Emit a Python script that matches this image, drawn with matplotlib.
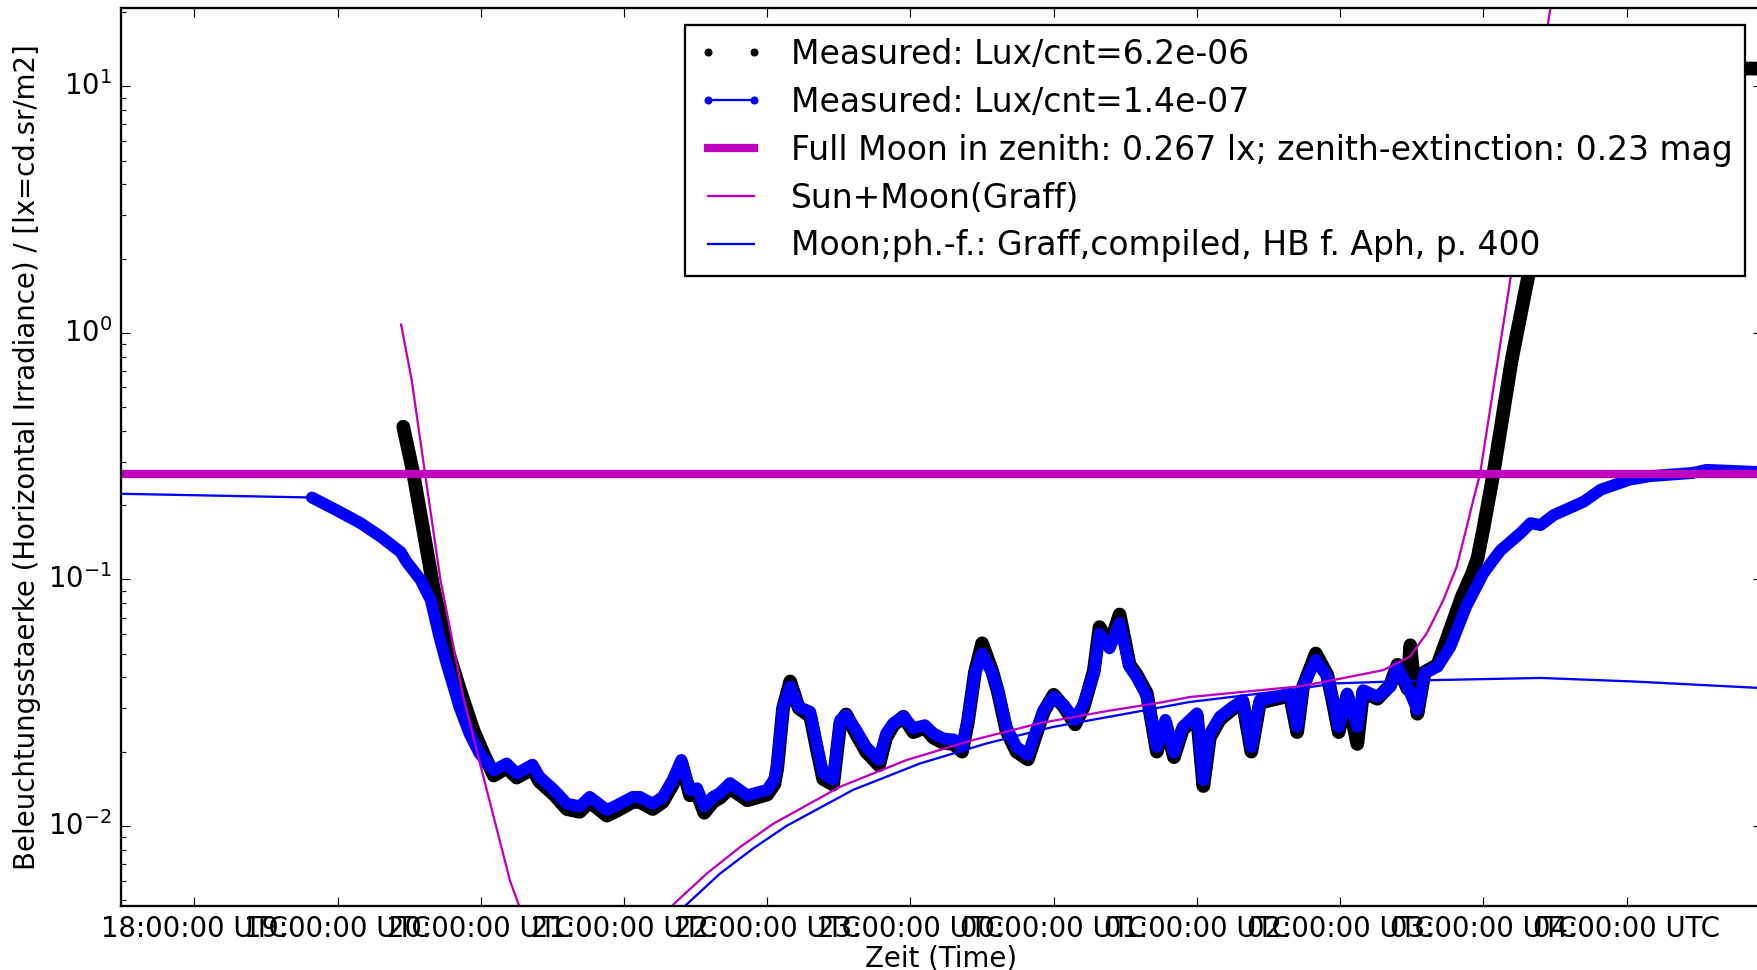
import matplotlib
matplotlib.use('Agg')
import matplotlib.pyplot as plt

plt.style.use('classic')
plt.rcParams['mathtext.fontset'] = 'dejavusans'

# time axis in hours UTC (24 = midnight, 25 = 01:00 ...)
hour_ticks = [18, 19, 20, 21, 22, 23, 24, 25, 26, 27, 28]
hour_labels = ['18:00:00 UTC', '19:00:00 UTC', '20:00:00 UTC', '21:00:00 UTC',
               '22:00:00 UTC', '23:00:00 UTC', '00:00:00 UTC', '01:00:00 UTC',
               '02:00:00 UTC', '03:00:00 UTC', '04:00:00 UTC']

# channel 1, Lux/cnt = 6.2e-06
black_t = [19.458, 19.528, 19.598, 19.668, 19.761, 19.854, 19.947, 20.017,
           20.09, 20.18, 20.25, 20.36, 20.41, 20.51, 20.60, 20.69, 20.76, 20.88,
           20.96, 21.06, 21.11, 21.20, 21.27, 21.34, 21.40, 21.46, 21.51, 21.56,
           21.62, 21.67, 21.74, 21.86, 22.00, 22.05, 22.07, 22.11, 22.16, 22.22,
           22.30, 22.35, 22.39, 22.46, 22.51, 22.55, 22.62, 22.69, 22.78, 22.83,
           22.88, 22.95, 23.02, 23.10, 23.16, 23.23, 23.30, 23.36, 23.40, 23.45,
           23.50, 23.57, 23.61, 23.67, 23.74, 23.82, 23.87, 23.93, 24.00, 24.07,
           24.15, 24.21, 24.28, 24.32, 24.39, 24.46, 24.53, 24.58, 24.65, 24.72,
           24.78, 24.84, 24.90, 25.00, 25.045, 25.09, 25.16, 25.25, 25.32, 25.38,
           25.44, 25.56, 25.65, 25.70, 25.74, 25.83, 25.91, 25.95, 25.99, 26.05,
           26.12, 26.16, 26.26, 26.35, 26.40, 26.47, 26.49, 26.54, 26.59, 26.68,
           26.744, 26.85, 26.92, 26.96, 27.00, 27.07, 27.198, 27.315, 27.50,
           27.70, 27.85, 28.95]
black_v = [0.416, 0.269, 0.1585, 0.0933, 0.0533, 0.0356, 0.0245, 0.0197,
           0.0160, 0.0172, 0.0157, 0.0170, 0.0151, 0.0134, 0.0117, 0.0114, 0.0125, 0.0110,
           0.0116, 0.0125, 0.0125, 0.0117, 0.0125, 0.0147, 0.0180, 0.0133, 0.0135, 0.0113,
           0.0125, 0.0130, 0.0142, 0.0127, 0.0134, 0.0148, 0.0172, 0.0300, 0.0385, 0.0300,
           0.0278, 0.0200, 0.0155, 0.0147, 0.0262, 0.0283, 0.0236, 0.0200, 0.0176, 0.0228,
           0.0256, 0.0277, 0.0240, 0.0250, 0.0228, 0.0217, 0.0215, 0.0200, 0.0262, 0.0420,
           0.0550, 0.0425, 0.0350, 0.0243, 0.0200, 0.0186, 0.0228, 0.0290, 0.0340, 0.0305,
           0.0258, 0.0305, 0.0425, 0.0640, 0.0540, 0.0720, 0.0450, 0.0410, 0.0345, 0.0200,
           0.0260, 0.0190, 0.0245, 0.0280, 0.0145, 0.0228, 0.0270, 0.0298, 0.0318, 0.0200,
           0.0316, 0.0328, 0.0338, 0.0240, 0.0365, 0.0500, 0.0410, 0.0316, 0.0240, 0.0338,
           0.0215, 0.0348, 0.0328, 0.0372, 0.0450, 0.0360, 0.0540, 0.0285, 0.0420, 0.0450,
           0.057, 0.085, 0.105, 0.122, 0.160, 0.267, 0.776, 1.71, 4.5,
           9.0, 11.8, 11.8]

# channel 2, Lux/cnt = 1.4e-07
blue_t = [17.20, 18.82, 18.99, 19.16, 19.30, 19.44, 19.48, 19.58, 19.65, 19.71,
          19.76, 19.85, 19.92, 19.99, 20.09, 20.18, 20.25, 20.36, 20.41, 20.51,
          20.60, 20.69, 20.76, 20.88, 20.96, 21.06, 21.11, 21.20, 21.27, 21.34,
          21.40, 21.46, 21.51, 21.56, 21.62, 21.67, 21.74, 21.86, 22.00, 22.05,
          22.07, 22.11, 22.16, 22.22, 22.30, 22.35, 22.39, 22.46, 22.51, 22.55,
          22.62, 22.69, 22.78, 22.83, 22.88, 22.95, 23.02, 23.10, 23.16, 23.23,
          23.30, 23.36, 23.40, 23.45, 23.50, 23.57, 23.61, 23.67, 23.74, 23.82,
          23.87, 23.93, 24.00, 24.07, 24.15, 24.21, 24.28, 24.32, 24.39, 24.46,
          24.53, 24.58, 24.65, 24.72, 24.78, 24.84, 24.90, 25.00, 25.045, 25.09,
          25.16, 25.25, 25.32, 25.38, 25.44, 25.56, 25.65, 25.70, 25.74, 25.83,
          25.91, 25.95, 25.99, 26.05, 26.12, 26.16, 26.26, 26.35, 26.40, 26.47,
          26.54, 26.59, 26.68, 26.77, 26.88, 27.00, 27.07, 27.12, 27.26, 27.33,
          27.40, 27.49, 27.70, 27.82, 28.02, 28.16, 28.46, 28.56, 28.95]
blue_v = [0.224, 0.2147, 0.191, 0.169, 0.149, 0.129, 0.118, 0.0993, 0.0824, 0.0585,
          0.0456, 0.0304, 0.0237, 0.0197, 0.0168, 0.0179, 0.0163, 0.0177, 0.0158, 0.0140,
          0.0123, 0.0120, 0.0131, 0.0116, 0.0122, 0.0131, 0.0131, 0.0123, 0.0131, 0.0154,
          0.0185, 0.0140, 0.0142, 0.0120, 0.0131, 0.0136, 0.0149, 0.0133, 0.0140, 0.0155,
          0.0179, 0.0304, 0.0367, 0.0304, 0.0290, 0.0209, 0.0163, 0.0154, 0.0269, 0.0281,
          0.0245, 0.0209, 0.0185, 0.0237, 0.0261, 0.0277, 0.0249, 0.0256, 0.0237, 0.0226,
          0.0224, 0.0209, 0.0269, 0.0416, 0.0500, 0.0416, 0.0356, 0.0252, 0.0209, 0.0194,
          0.0237, 0.0295, 0.0334, 0.0309, 0.0269, 0.0314, 0.0416, 0.0600, 0.0525, 0.0664,
          0.0442, 0.0400, 0.0336, 0.0209, 0.0269, 0.0198, 0.0252, 0.0286, 0.0153, 0.0237,
          0.0277, 0.0304, 0.0324, 0.0209, 0.0324, 0.0334, 0.0344, 0.0252, 0.0367, 0.0471,
          0.0403, 0.0324, 0.0252, 0.0344, 0.0252, 0.0355, 0.0334, 0.0367, 0.0442, 0.0367,
          0.0295, 0.0416, 0.0442, 0.0533, 0.0775, 0.1057, 0.120, 0.131, 0.154, 0.169,
          0.166, 0.182, 0.2065, 0.231, 0.2535, 0.262, 0.270, 0.278, 0.272]

full_moon_lux = 0.267
zenith_ext = 0.23

# model: sun + moon
sunmoon_t = [19.443, 19.517, 19.61, 19.717, 19.877, 19.994, 20.203, 20.30, 20.80,
             21.10, 21.344, 21.577, 21.81, 22.042, 22.508, 22.974, 23.439, 23.904,
             24.37, 24.742, 24.95, 25.72, 25.95, 26.30, 26.488, 26.605, 26.721,
             26.814, 26.884, 26.93, 26.977, 27.193, 27.466, 27.55]
sunmoon_v = [1.08, 0.643, 0.269, 0.100, 0.0334, 0.0179, 0.0060, 0.0042, 0.0009,
             0.0015, 0.0048, 0.0064, 0.0082, 0.0102, 0.0144, 0.0185, 0.0223, 0.0261,
             0.0292, 0.0316, 0.0333, 0.0368, 0.0390, 0.0428, 0.0486, 0.0604, 0.0824,
             0.1125, 0.163, 0.210, 0.267, 1.71, 20.4, 30.0]

# model: moon only
moon_t = [21.20, 21.437, 21.67, 21.902, 22.135, 22.60, 23.066, 23.532, 23.997,
          24.463, 24.95, 25.72, 25.953, 26.65, 27.40, 28.05, 28.95]
moon_v = [0.0035, 0.0048, 0.0064, 0.0081, 0.0100, 0.0140, 0.0179, 0.0216, 0.0252,
          0.0282, 0.0318, 0.0360, 0.0378, 0.0390, 0.0398, 0.0385, 0.0362]

fig = plt.figure(figsize=(1757 / 165., 970 / 165.), dpi=165, facecolor='white')
ax = fig.add_axes([121 / 1757., 1 - 905.7 / 970., (1762 - 121) / 1757., (905.7 - 8.3) / 970.])
ax.set_facecolor('white')

# dense measurement points show up as thick bands
ax.plot(black_t, black_v, '-', color='k', lw=6, solid_joinstyle='round', solid_capstyle='round')
ax.plot(black_t, black_v, 'k.', label='Measured: Lux/cnt=6.2e-06')
ax.plot(blue_t[1:], blue_v[1:], '-', color='b', lw=5.2, solid_joinstyle='round', solid_capstyle='round')
ax.plot(blue_t, blue_v, 'b.-', label='Measured: Lux/cnt=1.4e-07')

ax.axhline(full_moon_lux, color='m', lw=3.6,
           label='Full Moon in zenith: %s lx; zenith-extinction: %s mag' % (full_moon_lux, zenith_ext))
ax.plot(sunmoon_t, sunmoon_v, '-', color='m', lw=1, label='Sun+Moon(Graff)')
ax.plot(moon_t, moon_v, '-', color='b', lw=1, label='Moon;ph.-f.: Graff,compiled, HB f. Aph, p. 400')

ax.set_yscale('log')
ax.set_xlim(17.487, 28.946)
ax.set_ylim(10 ** -2.324, 10 ** 1.3164)
ax.set_xticks(hour_ticks)
ax.set_xticklabels(hour_labels)

ax.set_xlabel('Zeit (Time)', labelpad=0.5)
ax.set_ylabel('Beleuchtungsstaerke (Horizontal Irradiance) / [lx=cd.sr/m2]', labelpad=3)

ax.legend(loc='upper right', labelspacing=0.45)

fig.savefig('out.png', dpi=165, facecolor='white')
